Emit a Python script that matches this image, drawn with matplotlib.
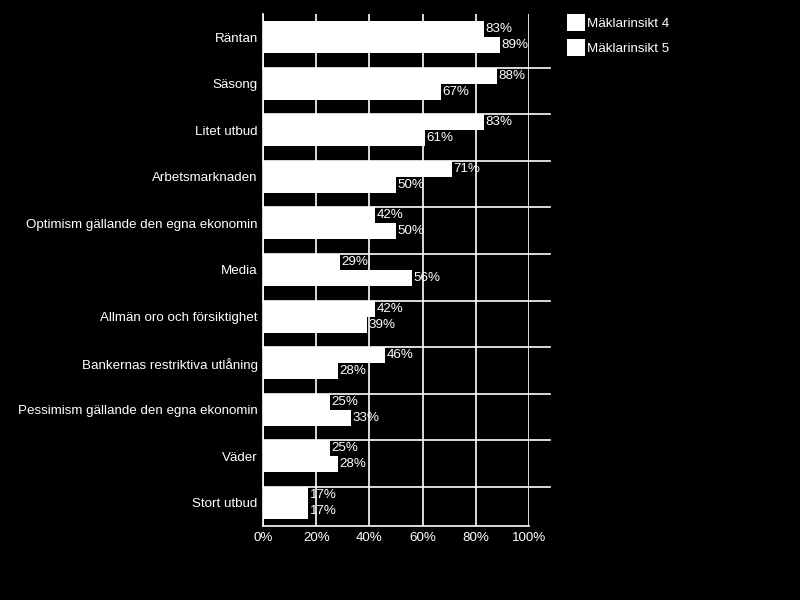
import matplotlib.pyplot as plt
import numpy as np

# Data
kategorier = ["Räntan", "Säsong", "Litet utbud", "Arbetsmarknaden",
              "Optimism gällande den egna ekonomin", "Media",
              "Allmän oro och försiktighet", "Bankernas restriktiva utlåning",
              "Pessimism gällande den egna ekonomin", "Väder", "Stort utbud"]
insikt4 = [83, 88, 83, 71, 42, 29, 42, 46, 25, 25, 17]
insikt5 = [89, 67, 61, 50, 50, 56, 39, 28, 33, 28, 17]
serier = ["Mäklarinsikt 4", "Mäklarinsikt 5"]
xticks = [0, 20, 40, 60, 80, 100]

plt.rcParams['font.family'] = ['Liberation Sans', 'DejaVu Sans']
fs = 9.6

fig = plt.figure(figsize=(8, 6), dpi=100, facecolor='black')
ax = fig.add_axes([0.329, 0.123, 0.332, 0.854], facecolor='black')

y = np.arange(len(kategorier))
h = 0.344

# horisontella linjer vid gruppernas överkant
for yi in y[1:]:
    ax.axhline(yi - h, xmin=0, xmax=1.08, color='white', lw=1.2, clip_on=False, zorder=1)

ax.barh(y - h / 2, insikt4, height=h, color='white', lw=0, label=serier[0], zorder=2)
ax.barh(y + h / 2, insikt5, height=h, color='white', lw=0, label=serier[1], zorder=2)

for i in range(len(kategorier)):
    ax.text(insikt4[i] + 0.6, y[i] - h / 2, f"{insikt4[i]}%", color='white',
            fontsize=fs, va='center', ha='left', zorder=3)
    ax.text(insikt5[i] + 0.6, y[i] + h / 2, f"{insikt5[i]}%", color='white',
            fontsize=fs, va='center', ha='left', zorder=3)

ax.set_xlim(0, 100)
ax.set_ylim(len(kategorier) - 0.5, -0.5)
ax.set_yticks(y)
ax.set_yticklabels(kategorier, color='white', fontsize=fs)
ax.set_xticks(xticks)
ax.set_xticklabels([f"{t}%" for t in xticks], color='white', fontsize=fs)
ax.tick_params(length=0, pad=4)
ax.xaxis.grid(True, color='white', lw=1.2, zorder=0)
ax.set_axisbelow(True)

for s in ['top', 'right']:
    ax.spines[s].set_visible(False)
for s in ['left', 'bottom']:
    ax.spines[s].set_color('white')
    ax.spines[s].set_linewidth(1.2)

leg = fig.legend(loc='upper left', bbox_to_anchor=(0.694, 0.996), frameon=False,
                 fontsize=fs, labelcolor='white', handlelength=1.3, handleheight=1.5,
                 handletextpad=0.2, labelspacing=0.65)

plt.savefig("out.png", dpi=100, facecolor='black')
